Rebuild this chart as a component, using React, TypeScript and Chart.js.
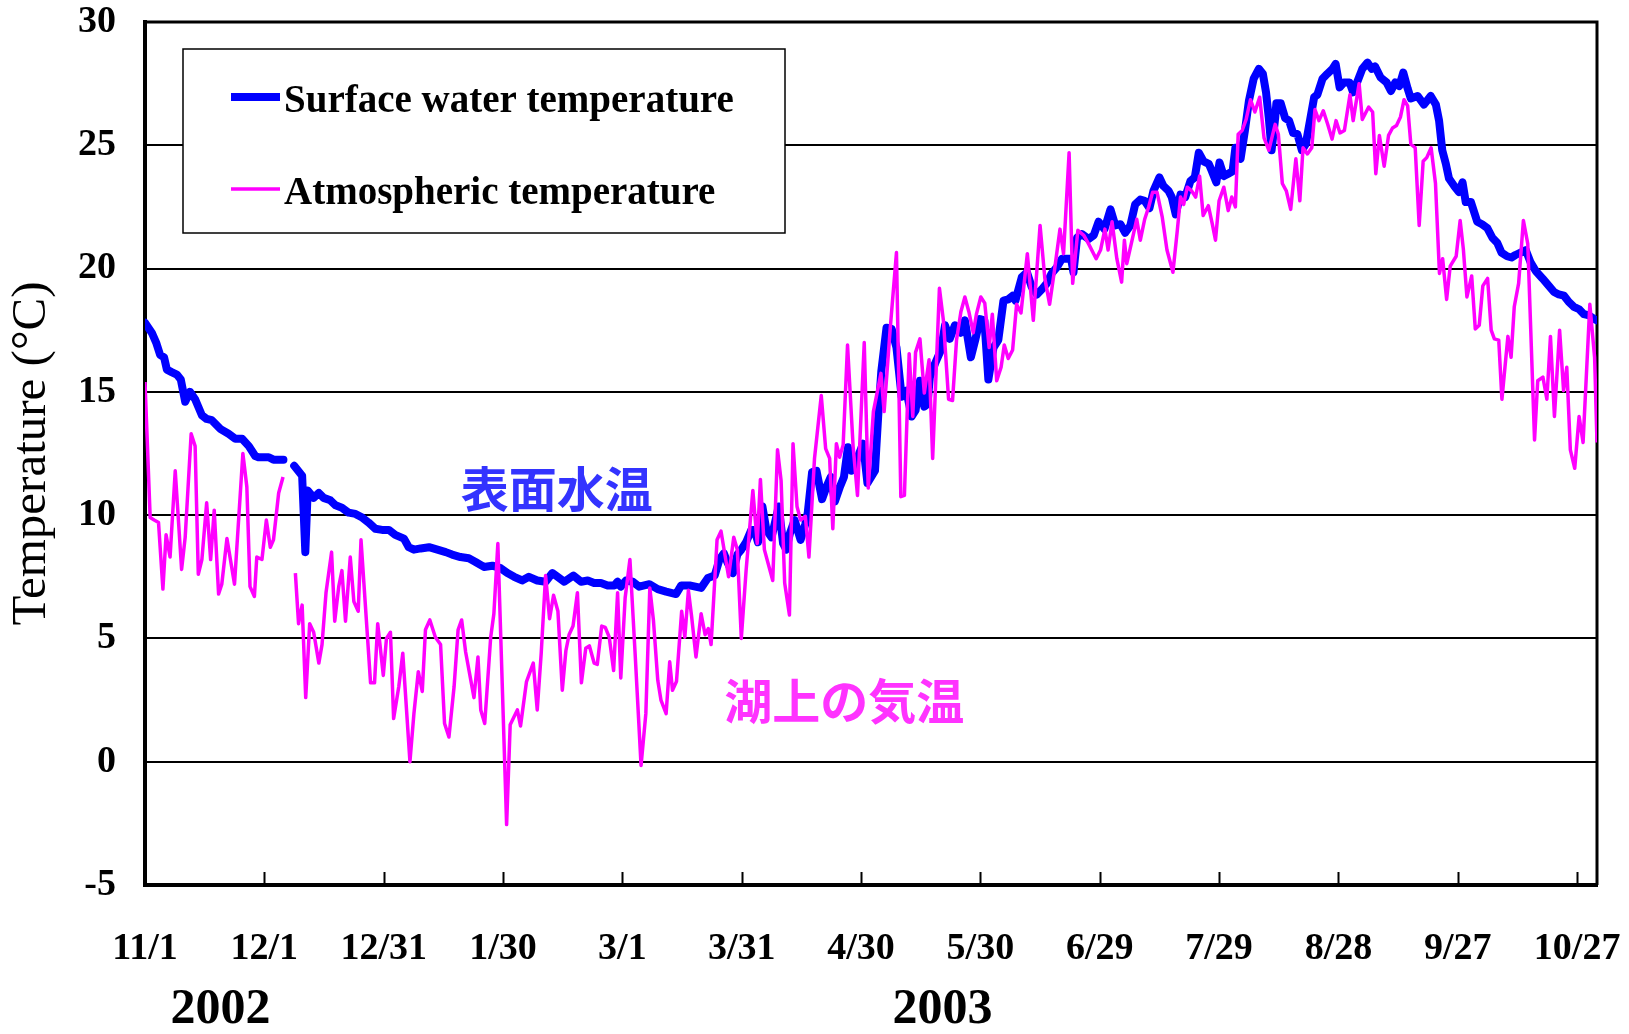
import React, { useEffect, useRef } from "react";
import { Chart, registerables } from "chart.js";

Chart.register(...registerables);

// X axis: day number counted from 2002-11-01
const tickDays = [0, 30, 60, 90, 120, 150, 180, 210, 240, 270, 300, 330, 360];
const tickLabels = ["11/1", "12/1", "12/31", "1/30", "3/1", "3/31", "4/30", "5/30", "6/29", "7/29", "8/28", "9/27", "10/27"];
const yearLabels = ["2002", "2003"];

const seriesLabels = ["Surface water temperature", "Atmospheric temperature"];
const annotationLabels = ["表面水温", "湖上の気温"];

// Surface water temperature (day, °C)
const waterDays = [
  0, 1.7, 2.8, 3.8, 4.8, 5.5, 6.7, 8, 9, 10.1,
  11.3, 12.6, 14.3, 15.5, 16.8, 18.9, 21, 22.7, 24.4, 26.1,
  27.7, 28.5, 31.1, 32.3, 34.8, 36, 37.5, 39.5, 40.3, 40.9,
  42.4, 43.7, 44.9, 46.6, 47.9, 49.5, 51.2, 52.9, 54.6, 56.2,
  57.9, 59.6, 61.3, 62.9, 65.1, 66.3, 67.6, 69.3, 71.4, 73.5,
  75.6, 77.2, 79.3, 81.4, 83.1, 85.2, 87.3, 89.4, 91.1, 92.8,
  94.8, 96.5, 98.6, 100.7, 102.4, 103.7, 105.4, 107.7, 109.6, 111.3,
  112.9, 114.6, 116.3, 118.0, 118.8, 119.6, 120.9, 122.6, 124.2, 126.8,
  128.9, 131.0, 133.5, 134.8, 136.9, 139.8, 141.5, 143.2, 144.4, 145.5,
  146.5, 147.8, 148.9, 149.9, 151.1, 152.4, 153.2, 154.1, 155.2, 156.2,
  157.5, 159.3, 160.4, 161.2, 162.1, 163.3, 164.8, 166.0, 166.6, 167.7,
  168.8, 170.2, 171.3, 172.4, 173.4, 174.7, 175.7, 176.7, 177.6, 178.8,
  180.5, 181.6, 183.5, 184.3, 185.1, 186.4, 187.7, 188.9, 190.2, 191.4,
  192.7, 193.7, 194.8, 195.9, 196.7, 197.3, 198.6, 200.1, 201.1, 202.3,
  203.6, 205.1, 206.1, 207.6, 208.7, 209.9, 211.0, 212.0, 213.3, 214.5,
  215.8, 217.0, 218.1, 218.8, 220.4, 221.7, 222.9, 224.2, 225.4, 226.7,
  227.9, 229.2, 230.5, 231.7, 232.8, 233.4, 234.3, 235.5, 237.2, 238.5,
  239.7, 241.2, 242.7, 243.9, 245.2, 246.4, 247.7, 248.9, 250.2, 251.3,
  252.5, 253.5, 255.0, 256.0, 257.3, 258.1, 259.1, 260.3, 261.5, 262.8,
  263.9, 264.9, 266.1, 267.4, 268.2, 269.3, 270.1, 271.2, 272.3, 273.4,
  274.1, 275.4, 276.5, 277.5, 278.7, 280.0, 281.0, 281.8, 282.5, 283.2,
  284.1, 284.4, 285.5, 286.6, 287.6, 288.6, 289.7, 290.8, 291.8, 293.9,
  294.7, 296.0, 297.2, 298.5, 299.3, 300.3, 301.4, 302.8, 303.7, 304.8,
  306.0, 307.3, 308.4, 309.2, 310.6, 312.1, 313.2, 314.3, 315.3, 316.3,
  317.4, 318.2, 319.9, 321.5, 323.2, 324.5, 325.3, 326.1, 327.0, 327.8,
  329.1, 330.3, 331.2, 332.0, 333.3, 334.9, 336.1, 337.4, 338.7, 339.9,
  341.0, 342.4, 343.5, 344.5, 345.8, 347.1, 348.3, 349.6, 351.3, 352.9,
  354.2, 355.4, 356.7, 357.9, 359.2, 360.5, 361.7, 363.0, 364.3, 365.0,
];
const waterTemps = [
  17.8, 17.4, 17.0, 16.5, 16.4, 15.9, 15.8, 15.7, 15.5, 14.6,
  15.0, 14.7, 14.05, 13.9, 13.85, 13.5, 13.3, 13.1, 13.1, 12.8,
  12.4, 12.35, 12.35, 12.25, 12.25, null, 12.0, 11.6, 8.5, 11.0,
  10.7, 10.9, 10.7, 10.6, 10.4, 10.3, 10.1, 10.05, 9.9, 9.7,
  9.45, 9.4, 9.4, 9.2, 9.05, 8.7, 8.6, 8.65, 8.7, 8.6,
  8.5, 8.4, 8.3, 8.25, 8.1, 7.9, 7.95, 7.85, 7.65, 7.5,
  7.35, 7.5, 7.35, 7.3, 7.65, 7.5, 7.3, 7.55, 7.3, 7.35,
  7.25, 7.25, 7.15, 7.15, 7.3, 7.1, 7.35, 7.3, 7.1, 7.2,
  7.0, 6.9, 6.8, 7.15, 7.15, 7.05, 7.45, 7.55, 8.2, 8.45,
  8.05, 7.65, 8.4, 8.6, 8.9, 9.4, 9.4, 8.9, 10.35, 9.4,
  9.1, 10.35, 8.85, 8.6, 9.25, 9.8, 9.0, 9.65, 10.1, 11.75,
  11.8, 10.65, 11.15, 11.55, 10.55, 11.15, 11.55, 12.75, 11.8, 12.2,
  12.9, 11.3, 11.8, 14.0, 15.85, 17.6, 17.55, 16.8, 14.8, 15.05,
  14.0, 14.25, 15.45, 14.4, 14.5, 15.6, 16.15, 16.7, 17.7, 17.15,
  17.7, 17.4, 17.9, 16.4, 17.1, 17.95, 17.9, 15.5, 16.8, 17.1,
  18.7, 18.75, 18.9, 18.7, 19.65, 19.85, 19.25, 18.95, 19.15, 19.4,
  19.8, 20.05, 20.4, 20.4, 20.4, 19.85, 21.25, 21.4, 21.2, 21.35,
  21.9, 21.6, 22.4, 21.75, 21.8, 21.45, 21.75, 22.6, 22.8, 22.75,
  22.45, 23.15, 23.7, 23.35, 23.15, 22.9, 22.2, 23.0, 22.9, 23.55,
  23.7, 24.7, 24.35, 24.25, 23.95, 23.5, 24.3, 23.75, 23.85, 23.95,
  24.9, 24.45, 25.6, 26.8, 27.7, 28.1, 27.9, 27.15, 26.1, 24.8,
  26.1, 26.7, 26.7, 26.1, 26.0, 25.5, 25.45, 24.8, 25.05, 26.95,
  27.05, 27.7, 27.9, 28.1, 28.3, 27.35, 27.55, 27.55, 27.15, 27.6,
  28.1, 28.35, 28.1, 28.2, 27.75, 27.55, 27.2, 27.55, 27.4, 27.95,
  27.3, 26.9, 27.0, 26.65, 27.0, 26.65, 26.0, 24.8, 24.25, 23.65,
  23.35, 23.1, 23.5, 22.7, 22.7, 21.9, 21.8, 21.65, 21.25, 21.05,
  20.65, 20.5, 20.45, 20.55, 20.65, 20.75, 20.25, 19.9, 19.6, 19.3,
  19.05, 18.95, 18.9, 18.65, 18.45, 18.35, 18.15, 18.1, 17.95, 17.9,
];

// Atmospheric temperature above the lake (day, °C)
const airDays = [
  0, 1.3, 2.3, 3.4, 4.5, 5.3, 6.3, 7.6, 9.2, 10.1,
  11.6, 12.6, 13.4, 14.3, 15.5, 16.5, 17.4, 18.5, 19.3, 20.6,
  22.5, 24.6, 25.6, 26.4, 27.5, 28.1, 29.4, 30.5, 31.5, 32.3,
  33.6, 34.7, 36, 37.8, 38.6, 39.5, 40.4, 41.4, 42.4, 43.7,
  44.5, 45.5, 46.9, 47.7, 48.7, 49.5, 50.4, 51.6, 52.5, 53.6,
  54.3, 56.7, 57.7, 58.5, 59.9, 60.7, 61.7, 62.5, 63.8, 64.8,
  66.6, 67.6, 68.7, 69.7, 70.5, 71.6, 73.0, 74.3, 75.3, 76.4,
  77.7, 78.7, 79.6, 80.6, 82.7, 83.7, 84.4, 85.4, 86.9, 87.7,
  88.7, 90.9, 91.8, 93.6, 94.4, 95.9, 97.6, 98.6, 99.6, 100.7,
  101.7, 102.7, 103.8, 104.9, 105.8, 106.6, 107.6, 108.7, 109.7, 110.8,
  111.7, 112.9, 113.7, 114.8, 115.7, 116.7, 117.8, 118.8, 119.6, 120.7,
  121.9, 123.2, 124.7, 125.9, 126.9, 127.8, 128.9, 129.7, 131.0, 131.9,
  132.6, 133.6, 134.9, 135.7, 136.6, 137.4, 138.5, 139.8, 140.8, 141.6,
  142.3, 143.8, 144.8, 146.7, 148.0, 148.9, 149.9, 151.1, 152.8, 153.9,
  154.7, 155.7, 157.8, 159.0, 159.9, 160.8, 162.0, 162.9, 163.9, 164.8,
  166.0, 166.9, 168.3, 170.0, 171.1, 172.1, 172.9, 173.8, 174.6, 175.5,
  176.6, 178.0, 179.1, 180.8, 181.8, 183.1, 185.0, 185.8, 187.3, 188.9,
  190.0, 190.9, 192.1, 193.0, 193.7, 194.8, 195.9, 197.1, 198.0, 199.7,
  200.7, 202.0, 203.0, 204.0, 205.1, 206.1, 207.1, 208.2, 209.0, 210.1,
  211.1, 212.2, 213.0, 214.1, 215.2, 216.0, 217.0, 218.1, 219.1, 220.2,
  221.8, 223.3, 225.0, 226.2, 227.4, 228.6, 230.0, 230.9, 232.3, 233.2,
  234.5, 236.0, 237.2, 239.1, 240.2, 241.3, 242.1, 243.1, 244.3, 245.5,
  246.2, 246.8, 248.2, 249.3, 250.2, 251.3, 252.3, 253.3, 254.4, 255.7,
  256.9, 258.4, 259.5, 260.3, 261.1, 262.0, 263.1, 264.1, 265.1, 266.0,
  267.3, 268.3, 269.1, 270.0, 271.2, 272.3, 273.2, 274.1, 274.8, 275.8,
  276.8, 277.9, 279.0, 280.2, 281.3, 282.5, 284.1, 284.9, 285.9, 286.9,
  288.0, 289.3, 290.3, 291.1, 292.2, 293.3, 294.1, 295.1, 296.2, 297.3,
  298.4, 299.4, 300.4, 301.5, 302.9, 303.7, 305.2, 306.0, 307.6, 308.6,
  309.4, 310.3, 311.5, 312.6, 313.6, 314.6, 315.6, 316.5, 317.4, 318.2,
  319.3, 320.3, 321.3, 322.2, 323.3, 324.4, 325.4, 326.2, 327.2, 328.1,
  329.6, 330.6, 331.4, 332.3, 333.5, 334.4, 335.4, 336.3, 337.5, 338.4,
  339.2, 340.3, 341.1, 342.6, 343.4, 344.2, 345.3, 346.5, 347.6, 349.3,
  350.1, 351.4, 352.4, 353.3, 354.3, 355.6, 356.6, 357.4, 358.3, 359.4,
  360.5, 361.5, 363.2, 364.4, 365.0,
];
const airTemps = [
  15.4, 9.9, 9.8, 9.7, 7.0, 9.2, 8.3, 11.8, 7.8, 9.1,
  13.3, 12.8, 7.6, 8.2, 10.5, 8.2, 10.2, 6.8, 7.2, 9.05,
  7.2, 12.5, 11.15, 7.1, 6.7, 8.3, 8.2, 9.8, 8.7, 9.0,
  10.9, 11.55, null, 7.65, 5.6, 6.35, 2.6, 5.6, 5.25, 4.0,
  4.75, 6.85, 8.5, 5.7, 7.1, 7.75, 5.7, 8.3, 6.5, 6.1,
  9.0, 3.2, 3.2, 5.6, 3.5, 5.0, 5.25, 1.75, 3.05, 4.4,
  0.0, 1.95, 3.65, 2.85, 5.35, 5.75, 5.05, 4.75, 1.55, 1.0,
  3.05, 5.35, 5.75, 4.45, 2.6, 4.25, 2.1, 1.55, 5.05, 6.0,
  8.85, -2.55, 1.5, 2.1, 1.45, 3.25, 4.0, 2.1, 4.4, 7.55,
  5.8, 6.75, 6.1, 2.9, 4.5, 5.15, 5.5, 6.85, 3.2, 4.6,
  4.7, 4.0, 3.95, 5.5, 5.45, 5.05, 3.7, 6.85, 3.4, 6.65,
  8.2, 4.4, -0.15, 1.95, 7.05, 5.75, 3.3, 2.5, 1.95, 4.05,
  2.9, 3.25, 6.1, 5.05, 6.95, 5.9, 4.25, 6.0, 5.15, 5.4,
  4.75, 9.0, 9.35, 7.5, 9.1, 8.6, 5.0, 7.75, 11.0, 8.85,
  11.45, 8.6, 7.35, 12.65, 11.4, 7.25, 5.95, 12.9, 10.35, 9.8,
  9.95, 8.3, 12.3, 14.85, 12.7, 12.3, 9.45, 12.9, 12.35, 12.85,
  16.9, 12.8, 10.8, 17.0, 11.1, 14.2, 15.75, 14.2, 17.5, 20.65,
  10.75, 10.8, 16.55, 14.0, 16.6, 17.15, 14.95, 16.3, 12.3, 19.2,
  17.9, 14.7, 14.65, 17.1, 18.25, 18.85, 18.25, 17.4, 18.15, 18.85,
  18.6, 16.8, 18.15, 15.45, 16.0, 16.9, 16.35, 16.7, 18.55, 18.2,
  20.6, 17.9, 21.75, 19.6, 18.55, 19.9, 21.6, 20.6, 24.7, 19.4,
  21.55, 21.35, 21.0, 20.4, 20.75, 21.6, 20.75, 21.9, 20.4, 19.45,
  21.15, 20.2, 21.2, 22.0, 21.15, 22.0, 22.5, 23.1, 23.1, 22.1,
  20.75, 19.85, 21.55, 22.9, 22.6, 23.3, 23.15, 22.9, 23.75, 22.15,
  22.55, 21.8, 21.15, 22.75, 23.3, 22.35, 22.9, 22.5, 25.45, 25.6,
  26.05, 26.85, 26.35, 26.95, 25.3, 24.8, 25.85, 25.45, 23.45, 23.15,
  22.4, 24.45, 22.75, 24.9, 24.65, 24.9, 26.45, 26.0, 26.4, 25.85,
  25.25, 26.0, 25.5, 25.6, 27.05, 26.0, 27.5, 26.05, 26.55, 26.35,
  23.85, 25.4, 24.15, 25.4, 25.7, 25.8, 26.15, 26.85, 26.6, 25.05,
  24.9, 21.75, 24.35, 24.5, 24.9, 23.45, 19.8, 20.4, 18.75, 20.1,
  20.5, 21.95, 20.8, 18.85, 19.7, 17.55, 17.7, 19.3, 19.6, 17.5,
  17.15, 17.1, 14.7, 17.25, 16.4, 18.45, 19.4, 21.95, 21.0, 13.05,
  15.45, 15.6, 14.7, 17.25, 14.0, 17.5, 15.05, 16.0, 12.65, 11.9,
  14.0, 12.95, 18.55, 16.4, 12.95,
];

const WATER_COLOR = "#0000FF";
const AIR_COLOR = "#FF00FF";
const SERIF = '"Liberation Serif", "Times New Roman", serif';
const CJK = '"Noto Sans CJK JP", sans-serif';

const overlayPlugin = {
  id: "overlay",
  beforeDatasetsDraw(chart: any) {
    const { ctx, chartArea: a, scales } = chart;
    const xs = scales.x;
    ctx.save();
    ctx.strokeStyle = "#000";
    ctx.lineWidth = 3;
    ctx.beginPath();
    ctx.moveTo(a.left, a.top);
    ctx.lineTo(a.right, a.top);
    ctx.lineTo(a.right, a.bottom);
    ctx.stroke();
    ctx.lineWidth = 2;
    ctx.beginPath();
    tickDays.forEach((d) => {
      const px = Math.round(xs.getPixelForValue(d)) + 0.5;
      ctx.moveTo(px, a.bottom);
      ctx.lineTo(px, a.bottom - 13);
    });
    ctx.stroke();
    ctx.restore();
  },
  afterDraw(chart: any) {
    const { ctx, chartArea: a, scales } = chart;
    const xs = scales.x;
    const ys = scales.y;
    ctx.save();

    // year labels under the date ticks
    const yearAnchors = [19, 200.5];
    ctx.fillStyle = "#000";
    ctx.font = `bold 50px ${SERIF}`;
    ctx.textAlign = "center";
    ctx.textBaseline = "middle";
    yearLabels.forEach((t, i) => {
      ctx.fillText(t, xs.getPixelForValue(yearAnchors[i]), a.bottom + 125);
    });

    // Japanese annotations
    ctx.font = `bold 48px ${CJK}`;
    ctx.fillStyle = "#3333FF";
    ctx.fillText(annotationLabels[0], xs.getPixelForValue(103.5), ys.getPixelForValue(11.05));
    ctx.fillStyle = "#FF33FF";
    ctx.fillText(annotationLabels[1], xs.getPixelForValue(175.8), ys.getPixelForValue(2.47));

    // legend box
    const bx = a.left + 38;
    const by = a.top + 27;
    const bw = 602;
    const bh = 184;
    ctx.fillStyle = "#fff";
    ctx.fillRect(bx, by, bw, bh);
    ctx.strokeStyle = "#000";
    ctx.lineWidth = 1.5;
    ctx.strokeRect(bx, by, bw, bh);
    const ds = chart.data.datasets;
    const rows = [by + 51, by + 143];
    ctx.font = `bold 39px ${SERIF}`;
    ctx.textAlign = "left";
    ds.forEach((d: any, i: number) => {
      const ry = rows[i];
      ctx.strokeStyle = d.borderColor;
      ctx.lineWidth = d.borderWidth;
      ctx.lineCap = "butt";
      ctx.beginPath();
      ctx.moveTo(bx + 48, ry - 3);
      ctx.lineTo(bx + 97, ry - 3);
      ctx.stroke();
      ctx.fillStyle = "#000";
      ctx.fillText(d.label, bx + 101, ry + 2);
    });
    ctx.restore();
  },
};

export default function App() {
  const canvasRef = useRef<HTMLCanvasElement | null>(null);

  useEffect(() => {
    const canvas = canvasRef.current;
    if (!canvas) return;
    const chart = new Chart(canvas, {
      type: "line",
      data: {
        datasets: [
          {
            label: seriesLabels[0],
            data: waterDays.map((d, i) => ({ x: d, y: waterTemps[i] })),
            borderColor: WATER_COLOR,
            backgroundColor: WATER_COLOR,
            borderWidth: 8,
            pointRadius: 0,
            tension: 0,
            borderJoinStyle: "round",
            borderCapStyle: "round",
            spanGaps: false,
            order: 1,
          },
          {
            label: seriesLabels[1],
            data: airDays.map((d, i) => ({ x: d, y: airTemps[i] })),
            borderColor: AIR_COLOR,
            backgroundColor: AIR_COLOR,
            borderWidth: 3.5,
            pointRadius: 0,
            tension: 0,
            borderJoinStyle: "round",
            spanGaps: false,
            order: 0,
          },
        ],
      } as any,
      options: {
        responsive: false,
        animation: false,
        layout: { padding: { top: 22, right: 32, left: 0, bottom: 0 } },
        plugins: {
          legend: { display: false },
          tooltip: { enabled: false },
        },
        scales: {
          x: {
            type: "linear",
            min: 0,
            max: 365,
            afterBuildTicks: (s: any) => {
              s.ticks = tickDays.map((v) => ({ value: v }));
            },
            afterFit: (s: any) => {
              s.height = 149;
              s.paddingLeft = 0;
              s.paddingRight = 0;
              s.paddingTop = 0;
              s.paddingBottom = 0;
            },
            ticks: {
              autoSkip: false,
              maxRotation: 0,
              minRotation: 0,
              padding: 41,
              color: "#000",
              font: { family: SERIF, weight: "bold", size: 38 },
              callback: (_v: any, i: number) => tickLabels[i],
            },
            grid: { display: true, drawOnChartArea: false, drawTicks: false },
            border: { display: true, color: "#000", width: 4 },
          },
          y: {
            type: "linear",
            min: -5,
            max: 30,
            afterFit: (s: any) => {
              s.width = 145;
              s.paddingLeft = 0;
              s.paddingRight = 0;
              s.paddingTop = 0;
              s.paddingBottom = 0;
            },
            ticks: {
              stepSize: 5,
              padding: 29,
              color: "#000",
              font: { family: SERIF, weight: "bold", size: 38 },
            },
            grid: { color: "#000", lineWidth: 2, drawTicks: false },
            border: { display: true, color: "#000", width: 4 },
            title: {
              display: true,
              text: "Temperature (°C)",
              color: "#000",
              font: { family: SERIF, weight: "normal", size: 49 },
              padding: { top: 3, bottom: 0 },
            },
          },
        },
      } as any,
      plugins: [overlayPlugin],
    });
    return () => chart.destroy();
  }, []);

  return (
    <div style={{ position: "absolute", left: 0, top: 0, width: 1629, height: 1034, background: "#fff" }}>
      <canvas ref={canvasRef} width={1629} height={1034} style={{ display: "block", width: 1629, height: 1034 }} />
    </div>
  );
}
